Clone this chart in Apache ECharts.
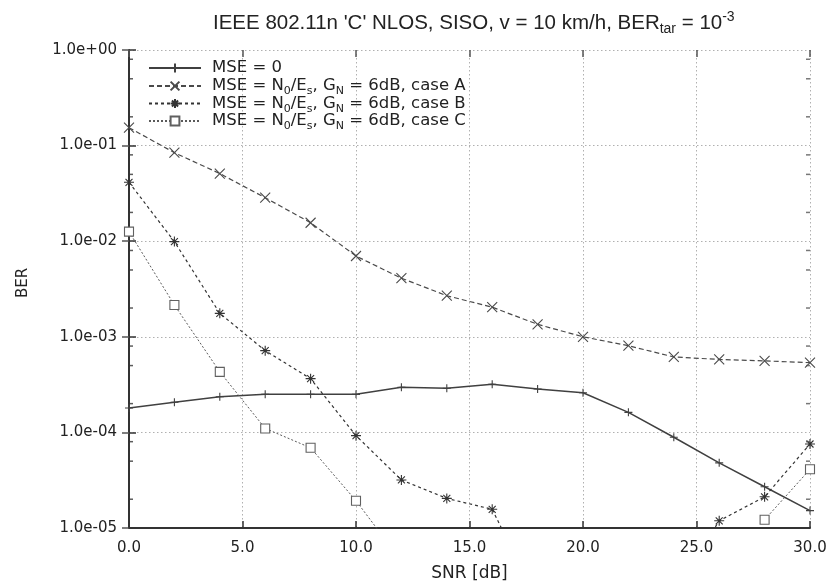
<!DOCTYPE html>
<html>
<head>
<meta charset="utf-8">
<title>BER vs SNR</title>
<script src="https://cdn.jsdelivr.net/npm/echarts@6/dist/echarts.min.js"></script>
<style>
  html, body { margin: 0; padding: 0; background: #fff; }
  #chart { width: 830px; height: 582px; }
</style>
</head>
<body>
<div id="chart"></div>
<script>
// SNR grid in dB
const snr = [0, 2, 4, 6, 8, 10, 12, 14, 16, 18, 20, 22, 24, 26, 28, 30];

// Bit error rates per configuration (null = no errors counted, not plotted)
const berMse0 = [1.8e-4, 2.07e-4, 2.36e-4, 2.5e-4, 2.5e-4, 2.5e-4, 2.96e-4, 2.9e-4,
                 3.18e-4, 2.84e-4, 2.6e-4, 1.62e-4, 8.9e-5, 4.8e-5, 2.7e-5, 1.52e-5];
const berCaseA = [0.154, 0.0843, 0.051, 0.0285, 0.0156, 0.0070, 0.0041, 0.00269,
                  0.00204, 0.00135, 0.00100, 8.07e-4, 6.15e-4, 5.8e-4, 5.6e-4, 5.36e-4];
const berCaseB = [0.0413, 0.0099, 0.00176, 7.16e-4, 3.65e-4, 9.25e-5, 3.18e-5, 2.04e-5,
                  1.57e-5, 1.7e-6, null, null, 2.1e-6, 1.19e-5, 2.12e-5, 7.56e-5];
const berCaseC = [0.0126, 0.00215, 4.3e-4, 1.1e-4, 6.9e-5, 1.93e-5, 4.5e-6, null,
                  null, null, null, null, null, null, 1.22e-5, 4.11e-5];

// Series names and their legend labels (with subscripts)
const seriesNames = ['MSE = 0', 'case A', 'case B', 'case C'];
const legendLabels = {
  'MSE = 0': 'MSE = 0',
  'case A': 'MSE = N{sub|0}/E{sub|s}, G{sub|N} = 6dB, case A',
  'case B': 'MSE = N{sub|0}/E{sub|s}, G{sub|N} = 6dB, case B',
  'case C': 'MSE = N{sub|0}/E{sub|s}, G{sub|N} = 6dB, case C'
};

// Minor tick positions on the BER axis (2, 5, 8 per decade)
const minorTickValues = [2e-5, 5e-5, 8e-5, 2e-4, 5e-4, 8e-4, 2e-3, 5e-3, 8e-3,
                         2e-2, 5e-2, 8e-2, 2e-1, 5e-1, 8e-1];

const TITLE_FONT = 'Liberation Sans';
const FONT = 'DejaVu Sans';
const TEXT = '#222';

const plusPath = 'path://M0,5L10,5M5,0L5,10';
const crossPath = 'path://M1,1L9,9M9,1L1,9';
const starPath = 'path://M0,5L10,5M5,0L5,10M1.5,1.5L8.5,8.5M8.5,1.5L1.5,8.5';
const squarePath = 'path://M0,0L10,0L10,10L0,10Z';

function toPairs(ys) {
  return snr.map((x, i) => [x, ys[i]]);
}

function expLabel(v) {
  const e = Math.round(Math.log10(v));
  const sign = e < 0 ? '-' : '+';
  return '1.0e' + sign + String(Math.abs(e)).padStart(2, '0');
}

const legendRows = [68, 86, 103.5, 121];

const legends = seriesNames.map((name, i) => ({
  data: [name],
  left: 148,
  top: legendRows[i] - 11,
  orient: 'vertical',
  itemWidth: 52,
  itemHeight: 11,
  itemGap: 0,
  padding: 0,
  selectedMode: false,
  formatter: n => legendLabels[n],
  textStyle: {
    fontFamily: FONT, fontSize: 16.5, color: TEXT, lineHeight: 22,
    padding: [0, 0, 0, 6],
    rich: {
      sub: { fontSize: 11, fontFamily: FONT, color: TEXT, verticalAlign: 'bottom', lineHeight: 7 }
    }
  }
}));

function lineSeries(name, data, symbol, size, lineType, color, width) {
  return {
    name: name,
    type: 'line',
    data: toPairs(data),
    symbol: symbol,
    symbolSize: size,
    showSymbol: true,
    connectNulls: false,
    clip: true,
    animation: false,
    lineStyle: { color: color, width: width, type: lineType },
    itemStyle: { color: 'none', borderColor: color, borderWidth: 1.1 },
    emphasis: { disabled: true },
    z: 3
  };
}

// hollow squares for case C
const caseC = lineSeries('case C', berCaseC, squarePath, 9, [2, 2], '#5a5a5a', 1);
caseC.itemStyle = { color: '#fff', borderColor: '#606060', borderWidth: 1.1 };

const chart = echarts.init(document.getElementById('chart'), null, { renderer: 'canvas' });

chart.setOption({
  animation: false,
  backgroundColor: '#fff',
  title: {
    text: "IEEE 802.11n 'C' NLOS, SISO, v = 10 km/h, BER{sub|tar} = 10{sup|-3}",
    left: 208,
    top: 5,
    textStyle: {
      fontFamily: TITLE_FONT, fontSize: 20.5, fontWeight: 'normal', color: TEXT, lineHeight: 26,
      rich: {
        sub: { fontSize: 14, fontFamily: TITLE_FONT, color: TEXT, verticalAlign: 'bottom', lineHeight: 8 },
        sup: { fontSize: 14, fontFamily: TITLE_FONT, color: TEXT, verticalAlign: 'top', lineHeight: 6 }
      }
    }
  },
  legend: legends,
  grid: { left: 129, right: 20, top: 50, bottom: 54, containLabel: false, outerBoundsMode: 'none' },
  xAxis: [
    {
      type: 'value', position: 'bottom', min: 0, max: 30, interval: 5,
      name: 'SNR [dB]', nameLocation: 'middle', nameGap: 37,
      nameTextStyle: { fontFamily: FONT, fontSize: 17, color: TEXT },
      axisLine: { show: true, lineStyle: { color: '#333', width: 2 } },
      axisTick: { show: true, inside: true, length: 7, lineStyle: { color: '#333', width: 1.5 } },
      axisLabel: { fontFamily: FONT, fontSize: 15, color: TEXT, margin: 13, formatter: v => v.toFixed(1) },
      splitLine: { show: true, lineStyle: { color: '#b0b0b0', width: 1, type: [1.5, 2.5] } }
    },
    {
      type: 'value', position: 'top', min: 0, max: 30, interval: 5,
      axisLine: { show: false },
      axisTick: { show: true, inside: true, length: 7, lineStyle: { color: '#555', width: 1.5 } },
      axisLabel: { show: false },
      splitLine: { show: false }
    }
  ],
  yAxis: [
    {
      type: 'log', logBase: 10, min: 1e-5, max: 1, position: 'left',
      name: 'BER', nameLocation: 'middle', nameGap: 98,
      nameTextStyle: { fontFamily: FONT, fontSize: 15, color: TEXT, padding: [0, 0, 0, 12] },
      axisLine: { show: true, lineStyle: { color: '#333', width: 2 } },
      axisTick: { show: true, inside: true, length: 7, lineStyle: { color: '#333', width: 1.5 } },
      axisLabel: { fontFamily: FONT, fontSize: 15, color: TEXT, margin: 12, formatter: expLabel },
      splitLine: { show: true, lineStyle: { color: '#b0b0b0', width: 1, type: [1.5, 2.5] } }
    },
    {
      type: 'log', logBase: 10, min: 1e-5, max: 1, position: 'right',
      axisLine: { show: false },
      axisTick: { show: true, inside: true, length: 7, lineStyle: { color: '#555', width: 1.5 } },
      axisLabel: { show: false },
      splitLine: { show: false }
    }
  ],
  series: [
    lineSeries('MSE = 0', berMse0, plusPath, 8, 'solid', '#404040', 1.5),
    lineSeries('case A', berCaseA, crossPath, 10, [5, 3], '#4a4a4a', 1.2),
    lineSeries('case B', berCaseB, starPath, 10, [3, 3], '#333', 1.2),
    caseC,
    {
      name: 'minor-left', type: 'scatter', silent: true, animation: false,
      data: minorTickValues.map(v => [0, v]),
      symbol: 'rect', symbolSize: [4, 1.5], symbolOffset: [2, 0],
      itemStyle: { color: '#333' }, z: 5
    },
    {
      name: 'minor-right', type: 'scatter', silent: true, animation: false,
      data: minorTickValues.map(v => [30, v]),
      symbol: 'rect', symbolSize: [4, 1.5], symbolOffset: [-2, 0],
      itemStyle: { color: '#555' }, z: 5
    }
  ]
});
</script>
</body>
</html>
